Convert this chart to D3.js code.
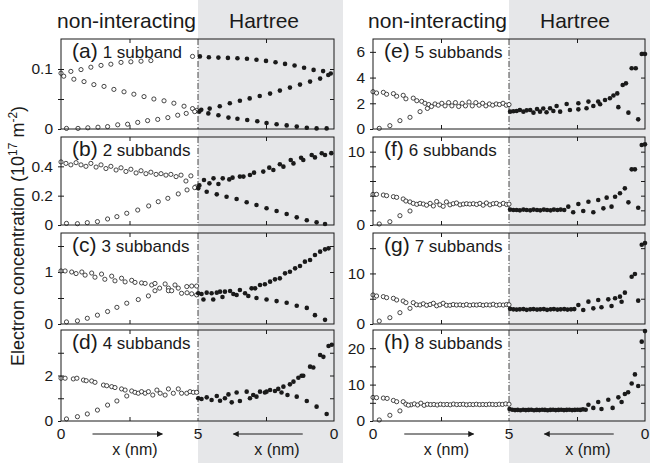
<!DOCTYPE html>
<html><head><meta charset="utf-8">
<script src="https://cdn.jsdelivr.net/npm/d3@7"></script>
<style>
body{margin:0;background:#fff}
svg{display:block}
text{font-family:"Liberation Sans",Arial,Helvetica,sans-serif;fill:#1a1a1a}
</style>
</head><body>
<svg id="c" width="650" height="463"></svg>
<script>
// ---------- DATA (x in nm, electron concentration in 1e17 m^-2) ----------
const panelLetters = ["(a)","(b)","(c)","(d)","(e)","(f)","(g)","(h)"];
const panelTexts = ["1 subband","2 subbands","3 subbands","4 subbands","5 subbands","6 subbands","7 subbands","8 subbands"];
const yMaxes = [0.15, 0.6, 1.75, 4, 7, 12, 18, 25];
const yTicks = [[0,0.05,0.1],[0,0.2,0.4],[0,0.5,1,1.5],[0,1,2,3],[0,2,4,6],[0,2,4,6,8,10],[0,5,10,15],[0,5,10,15,20]];
const yTickLabels = [[0,0.1],[0,0.2,0.4],[0,1],[0,2],[0,2,4,6],[0,10],[0,10],[0,10,20]];
const topTitles = ["non-interacting","Hartree"];
const xTickLabels = ["0","5","0"];

const nonintA = [[0,.093],[.36,.096],[.73,.099],[1.09,.103],[1.46,.106],[1.82,.108],[2.19,.111],[2.55,.112],[2.92,.113],[3.28,.114],[4.8,.121],
 [.1,.088],[.47,.083],[.84,.079],[1.2,.074],[1.57,.071],[1.93,.066],[2.3,.062],[2.66,.058],[3.03,.054],[3.39,.050],[3.76,.047],[4.12,.043],[4.49,.038],[4.8,.034],[4.95,.031],
 [.2,.001],[.62,.001],[.98,.002],[1.35,.003],[1.7,.004],[2.07,.007],[2.43,.008],[2.8,.011],[3.16,.014],[3.53,.016],[3.9,.019],[4.26,.023],[4.57,.026],[4.88,.029]];
const hartreeA = [[4.93,.121],[4.6,.1197],[4.25,.119],[3.9,.1185],[3.55,.118],[3.2,.117],[2.85,.1155],[2.5,.1135],[2.15,.1112],[1.8,.1085],[1.45,.1058],[1.1,.1022],[.75,.0985],[.4,.0965],[.12,.0925],
 [4.88,.032],[4.57,.034],[4.2,.038],[3.83,.043],[3.46,.047],[3.1,.051],[2.73,.055],[2.35,.059],[1.99,.064],[1.62,.069],[1.25,.074],[.88,.079],[.51,.084],[.21,.09],
 [4.95,.029],[4.62,.026],[4.25,.023],[3.88,.019],[3.55,.017],[3.19,.015],[2.82,.013],[2.48,.010],[2.11,.008],[1.74,.006],[1.37,.004],[1.0,.002],[.64,.001],[.27,.001]];

const nonintB = [[0,.43],[.18,.42],[.36,.41],[.55,.425],[.73,.41],[.91,.40],[1.09,.42],[1.28,.395],[1.46,.41],[1.64,.385],[1.82,.40],[2.01,.375],[2.19,.39],[2.37,.365],[2.55,.38],[2.74,.355],[2.92,.37],[3.1,.35],[3.28,.36],[3.47,.345],[3.65,.35],[3.83,.34],[4.01,.345],[4.2,.33],[4.38,.34],[4.56,.30],[4.74,.335],[4.92,.26],
 [.2,.011],[.6,.009],[.96,.016],[1.33,.023],[1.7,.041],[2.04,.057],[2.4,.08],[2.8,.102],[3.2,.13],[3.55,.159],[3.9,.182],[4.28,.212],[4.6,.239],[4.88,.255]];
const hartreeB = [[4.95,.27],[4.78,.307],[4.58,.284],[4.43,.318],[4.25,.28],[4.09,.318],[3.85,.311],[3.73,.323],[3.46,.33],[3.33,.33],[3.09,.341],[2.94,.357],[2.6,.364],[2.38,.391],[2.23,.375],[1.99,.414],[1.86,.398],[1.59,.443],[1.49,.42],[1.21,.459],[1.13,.443],[.82,.477],[.7,.461],[.45,.489],[.33,.477],[.1,.49],
 [4.99,.25],[4.68,.227],[4.31,.209],[3.95,.193],[3.58,.177],[3.21,.155],[2.85,.136],[2.48,.114],[2.11,.095],[1.74,.075],[1.37,.052],[1.0,.032],[.64,.018],[.33,.007]];

const nonintC = [[0,1.02],[.15,1.02],[.39,1.0],[.55,.97],[.76,1.0],[.88,.94],[1.12,.98],[1.24,.9],[1.48,.96],[1.6,.86],[1.85,.92],[1.97,.83],[2.21,.88],[2.34,.81],[2.58,.84],[2.7,.80],[2.94,.79],[3.07,.78],[3.31,.75],[3.43,.78],[3.8,.77],[3.92,.69],[4.16,.75],[4.28,.69],[4.59,.72],[4.77,.73],[4.95,.73],
 [.2,.04],[.6,.06],[.96,.11],[1.33,.17],[1.7,.24],[2.04,.32],[2.4,.40],[2.82,.47],[3.19,.54],[3.43,.64],[3.6,.69],[3.92,.64],[4.04,.64],[4.4,.59],[4.6,.60],[4.77,.58],[4.95,.56]];
const hartreeC = [[4.99,.59],[4.87,.577],[4.68,.603],[4.5,.59],[4.31,.603],[4.19,.622],[4.01,.622],[3.82,.635],[3.46,.654],[3.03,.686],[2.9,.686],[2.72,.75],[2.54,.763],[2.35,.814],[2.17,.859],[1.99,.878],[1.8,.974],[1.62,1.006],[1.43,1.07],[1.25,1.115],[1.07,1.199],[.88,1.231],[.7,1.327],[.51,1.391],[.33,1.436],[.2,1.455],
 [4.8,.47],[4.44,.47],[4.1,.52],[3.7,.577],[3.58,.558],[3.27,.59],[3.15,.538],[2.85,.50],[2.48,.47],[2.11,.44],[1.74,.41],[1.37,.35],[1.0,.31],[.7,.17],[.33,.08]];

const nonintD = [[0,1.88],[.15,1.88],[.45,1.85],[.58,1.88],[.82,1.80],[.92,1.77],[1.12,1.76],[1.24,1.70],[1.55,1.58],[1.67,1.55],[1.85,1.51],[1.97,1.47],[2.21,1.41],[2.34,1.36],[2.58,1.32],[2.7,1.26],[2.82,1.22],[2.94,1.29],[3.07,1.22],[3.19,1.29],[3.35,1.14],[3.5,1.36],[3.62,1.22],[3.8,1.14],[3.92,1.41],[4.1,1.22],[4.28,1.41],[4.4,1.22],[4.59,1.22],[4.71,1.29],[4.83,1.26],[4.95,1.26],
 [.2,.09],[.6,.19],[.96,.31],[1.33,.48],[1.7,.70],[2.04,.88],[2.4,1.10]];
const hartreeD = [[4.99,1.0],[4.87,.97],[4.68,1.04],[4.5,.92],[4.31,1.10],[4.19,.89],[4.01,1.0],[3.88,1.17],[3.76,.82],[3.58,1.25],[3.46,.88],[3.21,1.29],[3.09,1.0],[2.97,1.14],[2.85,1.07],[2.72,1.29],[2.54,1.25],[2.48,1.29],[2.35,1.36],[2.17,1.32],[2.05,1.41],[1.93,1.25],[1.86,1.51],[1.62,1.61],[1.49,1.73],[1.31,1.9],[1.19,1.99],[1.13,1.99],[.88,2.39],[.76,2.35],[.51,2.9],[.39,2.82],[.2,3.3],[.08,3.35],
 [1.71,1.14],[1.37,1.07],[1.0,.88],[.64,.63],[.27,.31]];

const nonintE = [[0,2.9],[.13,2.8],[.38,2.85],[.5,2.7],[.75,2.75],[.87,2.55],[1.11,2.62],[1.21,2.35],[1.48,2.4],[1.61,2.2],[1.79,2.15],[1.91,2.0],[2.05,1.9],[2.15,1.75],
 [2.28,1.95],[2.4,1.85],[2.53,2.0],[2.65,1.8],[2.78,2.05],[2.9,1.8],[3.03,2.05],[3.15,1.75],[3.28,2.0],[3.4,1.8],[3.53,2.1],[3.65,1.8],[3.78,2.05],[3.9,1.85],[4.03,2.0],[4.15,1.8],[4.28,1.95],[4.4,1.85],[4.53,1.95],[4.65,1.9],[4.78,2.0],[4.9,1.85],[5.0,1.9],
 [.23,.05],[.62,.26],[.99,.65],[1.36,.91],[1.73,1.35],[2.0,1.6]];
const hartreeE = [[4.96,1.35],[4.84,1.38],[4.72,1.4],[4.6,1.48],[4.47,1.35],[4.35,1.45],[4.22,1.48],[4.1,1.27],[3.97,1.55],[3.86,1.35],[3.74,1.6],[3.62,1.3],[3.49,1.61],[3.37,1.4],[3.25,1.79],[3.12,1.35],
 [2.88,1.95],[2.45,2.0],[2.08,2.13],[1.72,2.13],[1.47,2.26],[1.29,2.39],[1.16,2.6],[1.02,2.77],[.82,3.42],[.7,3.55],[.49,4.72],[.34,4.72],[.12,5.83],[0,5.83],
 [2.76,1.48],[2.45,1.53],[2.15,1.61],[1.9,1.79],[1.65,1.92],[.98,1.7],[.61,1.27],[.25,.75]];

const nonintF = [[0,4.18],[.13,4.18],[.38,4.09],[.5,4.0],[.75,3.86],[.87,3.77],[1.11,3.55],[1.21,3.27],[1.36,3.15],[1.48,2.95],[1.61,2.82],[1.73,2.95],[1.85,2.86],[1.97,2.7],[2.1,2.95],[2.22,2.6],[2.34,3.2],[2.46,2.75],[2.58,2.55],[2.7,3.15],[2.83,2.75],[2.95,2.9],[3.07,3.0],[3.2,2.75],[3.32,2.85],[3.44,2.9],[3.56,2.85],[3.69,2.9],[3.81,2.8],[3.93,2.95],[4.05,2.7],[4.17,3.0],[4.3,2.75],[4.42,2.9],[4.54,2.95],[4.66,2.75],[4.79,2.95],[4.91,2.8],[5.0,2.85],
 [.23,.14],[.62,.45],[.99,1.27],[1.36,1.91]];
const hartreeF = [[4.96,2.1],[4.84,2.05],[4.72,2.05],[4.6,2.0],[4.47,2.1],[4.35,2.05],[4.22,2.0],[4.1,2.1],[3.97,2.05],[3.85,2.0],[3.72,2.1],[3.6,2.05],[3.47,2.0],[3.35,2.1],[3.22,2.05],[3.1,2.1],[2.97,2.05],
 [2.82,2.5],[2.45,2.86],[2.08,3.18],[1.72,3.41],[1.41,3.73],[1.1,3.86],[.92,4.32],[.74,5.0],[.49,7.59],[.37,7.59],[.12,10.9],[0,11.0],
 [2.64,1.73],[2.27,1.91],[1.9,1.73],[1.53,2.27],[1.23,2.5],[.61,3.09],[.25,2.36]];

const nonintG = [[0,5.74],[.13,5.54],[.38,5.41],[.5,5.21],[.75,5.08],[.87,4.75],[1.11,4.55],[1.21,4.22],[1.48,4.22],[1.6,3.8],[1.73,3.76],[1.85,4.0],[1.97,3.7],[2.1,3.85],[2.22,4.1],[2.34,3.6],[2.46,3.8],[2.58,4.1],[2.7,3.7],[2.83,3.7],[2.95,3.85],[3.07,3.75],[3.2,3.8],[3.32,3.7],[3.44,3.85],[3.56,3.7],[3.69,3.8],[3.81,3.75],[3.93,3.85],[4.05,3.7],[4.17,3.8],[4.3,3.75],[4.42,3.9],[4.54,3.7],[4.66,3.8],[4.79,3.75],[4.91,3.85],[5.0,3.8],
 [.23,.59],[.62,1.25],[.99,2.24],[1.36,3.1]];
const hartreeG = [[4.96,3.0],[4.84,2.9],[4.72,2.85],[4.6,2.9],[4.47,2.95],[4.35,2.8],[4.22,2.9],[4.1,2.95],[3.97,2.85],[3.85,2.9],[3.72,2.95],[3.6,2.8],[3.47,2.9],[3.35,2.95],[3.22,2.85],[3.1,2.9],[2.97,2.95],[2.85,2.85],[2.72,2.9],[2.6,2.95],
 [2.45,3.76],[2.08,4.42],[1.72,4.75],[1.35,4.88],[1.1,5.08],[.92,5.41],[.74,6.2],[.49,9.36],[.37,9.89],[.12,15.69],[0,16.0],
 [2.27,2.77],[1.9,3.1],[1.6,3.3],[1.23,3.56],[.86,4.4],[.25,4.62]];

const nonintH = [[0,6.48],[.13,6.4],[.38,6.3],[.52,6.2],[.75,5.65],[.87,5.3],[1.11,5.3],[1.21,4.63],[1.4,4.45],[1.52,4.7],[1.64,4.4],[1.76,4.9],[1.88,4.3],[2.0,4.6],[2.12,4.5],[2.24,4.55],[2.36,4.4],[2.48,4.6],[2.6,4.5],[2.72,4.55],[2.84,4.45],[2.96,4.65],[3.08,4.5],[3.2,4.55],[3.32,4.6],[3.44,4.45],[3.56,4.55],[3.68,4.5],[3.8,4.6],[3.92,4.5],[4.04,4.55],[4.16,4.5],[4.28,4.6],[4.4,4.55],[4.52,4.5],[4.64,4.6],[4.76,4.55],[4.88,4.7],[5.0,4.6],
 [.23,.28],[.62,1.57],[.99,2.78],[1.3,4.35]];
const hartreeH = [[4.98,3.3],[4.88,3.1],[4.78,3.0],[4.68,3.05],[4.58,2.95],[4.48,3.1],[4.38,3.0],[4.28,3.05],[4.18,3.1],[4.08,2.95],[3.98,3.05],[3.88,3.0],[3.78,3.1],[3.68,3.05],[3.58,2.95],[3.48,3.05],[3.38,3.1],[3.28,3.0],[3.18,3.05],[3.08,3.1],[2.98,3.0],[2.88,3.05],[2.78,3.1],[2.68,3.0],[2.58,3.05],[2.48,3.1],[2.38,3.05],[2.28,3.2],[2.18,3.1],
 [2.08,4.45],[1.72,5.2],[1.35,5.85],[.98,6.5],[.74,7.4],[.62,7.9],[.49,10.3],[.37,12.8],[.12,21.8],[0,24.7],
 [1.9,3.6],[1.6,3.3],[1.19,3.6],[.86,5.2],[.25,9.6]];

const nonintAll = [nonintA,nonintB,nonintC,nonintD,nonintE,nonintF,nonintG,nonintH];
const hartreeAll = [hartreeA,hartreeB,hartreeC,hartreeD,hartreeE,hartreeF,hartreeG,hartreeH];

// ---------- LAYOUT ----------
const W = 650, H = 463;
const FONT = "Liberation Sans, Arial, Helvetica, sans-serif";
const cols = [{x0:61,xm:198,x1:334,g1:343},{x0:373,xm:509,x1:645,g1:650}];
const rows = [[39,129],[137,225],[233,324],[330,421]];
const gray = "#e6e7e9";
const svg = d3.select("#c");

const defs = svg.append("defs");
defs.append("marker").attr("id","ah").attr("viewBox","0 0 10 10").attr("refX",9).attr("refY",5)
  .attr("markerWidth",8).attr("markerHeight",6).attr("markerUnits","userSpaceOnUse").attr("orient","auto")
  .append("path").attr("d","M0,0L10,5L0,10Z").attr("fill","#1a1a1a");

cols.forEach(c => {
  svg.append("rect").attr("x",c.xm).attr("y",0).attr("width",c.g1-c.xm).attr("height",H).attr("fill",gray);
  svg.append("text").attr("x",c.xm-2).attr("y",28).attr("text-anchor","end").attr("font-size",21).text(topTitles[0]);
  svg.append("text").attr("x",c.xm+66).attr("y",28).attr("text-anchor","middle").attr("font-size",21).text(topTitles[1]);
});

const fmt = d3.format("~g");

function styleAxis(s){
  s.select(".domain").remove();
  s.attr("font-family",FONT).attr("font-size",15.5);
  s.selectAll("line").attr("stroke","#1a1a1a");
  s.selectAll("text").attr("fill","#1a1a1a");
}

for (let i=0;i<8;i++){
  const c = cols[Math.floor(i/4)], r = rows[i%4];
  const y = d3.scaleLinear().domain([0,yMaxes[i]]).range([r[1],r[0]]);
  const xL = d3.scaleLinear().domain([0,5]).range([c.x0,c.xm]);
  const xR = d3.scaleLinear().domain([0,5]).range([c.x1,c.xm]);
  const g = svg.append("g");
  g.append("rect").attr("x",c.x0).attr("y",r[0]).attr("width",c.xm-c.x0).attr("height",r[1]-r[0]).attr("fill","#fff");
  g.append("line").attr("x1",c.xm).attr("x2",c.xm).attr("y1",r[0]).attr("y2",r[1])
    .attr("stroke","#1a1a1a").attr("stroke-width",0.8).attr("stroke-dasharray","6,2,1,2");

  // y ticks
  g.append("g").attr("transform",`translate(${c.x0},0)`)
    .call(d3.axisLeft(y).tickValues(yTicks[i]).tickSize(3).tickPadding(5)
      .tickFormat(d => yTickLabels[i].includes(d) ? fmt(d) : ""))
    .call(styleAxis);
  g.append("g").attr("transform",`translate(${c.x0},0)`)
    .call(d3.axisRight(y).tickValues(yTicks[i].filter(v=>v>0)).tickSize(3).tickFormat(""))
    .call(styleAxis);
  g.append("g").attr("transform",`translate(${c.x1},0)`)
    .call(d3.axisLeft(y).tickValues(yTicks[i].filter(v=>v>0)).tickSize(4).tickFormat(""))
    .call(styleAxis);
  // x ticks (top & bottom, inward) at 2.5 nm in both halves
  [xL,xR].forEach(sx => {
    g.append("g").attr("transform",`translate(0,${r[0]})`)
      .call(d3.axisBottom(sx).tickValues([2.5]).tickSize(4).tickFormat("")).call(styleAxis);
    g.append("g").attr("transform",`translate(0,${r[1]})`)
      .call(d3.axisTop(sx).tickValues([2.5]).tickSize(4).tickFormat("")).call(styleAxis);
  });

  // points
  g.selectAll("circle.ni").data(nonintAll[i]).join("circle").attr("class","ni")
    .attr("cx",d=>xL(d[0])).attr("cy",d=>y(d[1])).attr("r",2.1)
    .attr("fill","#fff").attr("stroke","#1a1a1a").attr("stroke-width",0.8);
  g.selectAll("circle.h").data(hartreeAll[i]).join("circle").attr("class","h")
    .attr("cx",d=>xR(d[0])).attr("cy",d=>y(d[1])).attr("r",2.3)
    .attr("fill","#1a1a1a");

  // frame
  g.append("rect").attr("x",c.x0).attr("y",r[0]).attr("width",c.x1-c.x0).attr("height",r[1]-r[0])
    .attr("fill","none").attr("stroke","#1a1a1a").attr("stroke-width",1);

  // panel label
  const t = g.append("text").attr("x",c.x0+11).attr("y",r[0]+19);
  t.append("tspan").attr("font-size",21).text(panelLetters[i]);
  t.append("tspan").attr("font-size",17).attr("dx",5).text(panelTexts[i]);

  // bottom axis labels
  if (i%4===3){
    const by = 439;
    [[xL(0),xTickLabels[0]],[xL(5),xTickLabels[1]],[xR(0),xTickLabels[2]]].forEach(([px,s])=>{
      svg.append("text").attr("x",px).attr("y",by).attr("text-anchor","middle").attr("font-size",15.5).text(s);
    });
    svg.append("line").attr("x1",xL(1.15)).attr("x2",xL(3.7)).attr("y1",434).attr("y2",434)
      .attr("stroke","#1a1a1a").attr("stroke-width",1).attr("marker-end","url(#ah)");
    svg.append("line").attr("x1",xR(1.15)).attr("x2",xR(3.7)).attr("y1",434).attr("y2",434)
      .attr("stroke","#1a1a1a").attr("stroke-width",1).attr("marker-end","url(#ah)");
    svg.append("text").attr("x",xL(2.7)).attr("y",455).attr("text-anchor","middle").attr("font-size",16).text("x (nm)");
    svg.append("text").attr("x",xR(2.1)).attr("y",455).attr("text-anchor","middle").attr("font-size",16).text("x (nm)");
  }
}

// y axis title
const yt = svg.append("text").attr("transform","translate(24,236) rotate(-90)").attr("text-anchor","middle").attr("font-size",18);
yt.append("tspan").text("Electron concentration (10");
yt.append("tspan").attr("font-size",12).attr("dy",-7).text("17");
yt.append("tspan").attr("dy",7).text(" m");
yt.append("tspan").attr("font-size",12).attr("dy",-7).text("-2");
yt.append("tspan").attr("dy",7).text(")");
</script>
</body></html>
